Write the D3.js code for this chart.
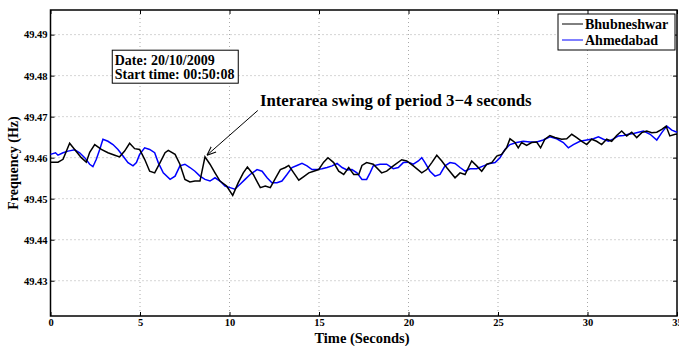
<!DOCTYPE html>
<html>
<head>
<meta charset="utf-8">
<script src="https://cdn.jsdelivr.net/npm/d3@7"></script>
<style>
  body { margin: 0; background: #fff; }
  svg { display: block; font-family: "Liberation Serif", "Times New Roman", serif; font-weight: bold; }
</style>
</head>
<body>
<div id="chart"></div>
<script>
// time (s) and frequency (Hz)
const timeBhub = [0, 0.42, 0.7, 1.07, 1.35, 1.72, 2.0, 2.19, 2.47, 2.84, 3.21, 3.59, 3.86, 4.14, 4.42, 4.7, 4.98, 5.26, 5.54, 5.82,
  6.12, 6.4, 6.58, 6.96, 7.23, 7.51, 7.79, 8.07, 8.35, 8.63, 8.91, 9.19, 9.47, 9.84, 10.18, 10.49, 10.77, 11.0, 11.33, 11.72,
  12.0, 12.28, 12.58, 12.84, 13.12, 13.31, 13.59, 13.87, 14.15, 14.43, 14.7, 14.98, 15.26, 15.5, 15.82, 16.1, 16.38, 16.66, 16.94, 17.22,
  17.4, 17.66, 18.03, 18.5, 18.78, 19.15, 19.62, 19.9, 20.27, 20.74, 21.02, 21.3, 21.58, 21.86, 22.13, 22.6, 22.88, 23.16, 23.53, 23.81,
  24.09, 24.37, 24.65, 24.93, 25.2, 25.48, 25.67, 25.95, 26.13, 26.32, 26.6, 26.88, 27.16, 27.38, 27.62, 27.9, 28.18, 28.56, 28.84, 29.12,
  29.4, 29.68, 29.96, 30.23, 30.51, 30.79, 31.07, 31.35, 31.63, 31.91, 32.19, 32.47, 32.75, 33.03, 33.31, 33.59, 33.87, 34.15, 34.39, 34.6, 34.9, 35.0];
const freqBhub = [49.4589, 49.4589, 49.4596, 49.4635, 49.4620, 49.4600, 49.4589, 49.4613, 49.4632, 49.4620, 49.4612, 49.4606, 49.4602, 49.4616, 49.4635, 49.4622, 49.4620, 49.4596, 49.4567, 49.4563,
  49.4588, 49.4612, 49.4618, 49.4608, 49.4584, 49.4547, 49.4541, 49.4543, 49.4543, 49.4602, 49.4584, 49.4563, 49.4543, 49.4531, 49.4508, 49.4539, 49.4563, 49.4577, 49.4559, 49.4527,
  49.4531, 49.4527, 49.4551, 49.4571, 49.4576, 49.4581, 49.4563, 49.4545, 49.4554, 49.4563, 49.4567, 49.4571, 49.4589, 49.4600, 49.4588, 49.4567, 49.4559, 49.4576, 49.4559, 49.4559,
  49.4581, 49.4588, 49.4584, 49.4563, 49.4567, 49.4580, 49.4595, 49.4592, 49.4580, 49.4563, 49.4571, 49.4588, 49.4606, 49.4592, 49.4576, 49.4551, 49.4563, 49.4559, 49.4592, 49.4580,
  49.4567, 49.4584, 49.4588, 49.4604, 49.4608, 49.4624, 49.4646, 49.4637, 49.4624, 49.4637, 49.4630, 49.4637, 49.4638, 49.4624, 49.4645, 49.4654, 49.4649, 49.4645, 49.4646, 49.4657,
  49.4649, 49.4640, 49.4632, 49.4645, 49.4640, 49.4632, 49.4645, 49.4640, 49.4654, 49.4665, 49.4653, 49.4662, 49.4649, 49.4661, 49.4665, 49.4661, 49.4662, 49.4669, 49.4677, 49.4653, 49.4657, 49.4657];

const timeAhmd = [0, 0.28, 0.42, 0.7, 0.98, 1.35, 1.63, 1.91, 2.19, 2.37, 2.56, 2.75, 2.93, 3.21, 3.49, 3.77, 4.05, 4.33, 4.61, 4.8,
  4.98, 5.26, 5.54, 5.82, 6.02, 6.3, 6.68, 6.96, 7.23, 7.51, 7.79, 8.07, 8.35, 8.63, 8.91, 9.19, 9.47, 9.75, 10.03, 10.3,
  10.59, 10.87, 11.15, 11.42, 11.54, 11.82, 12.1, 12.37, 12.65, 12.93, 13.21, 13.49, 13.77, 14.05, 14.33, 14.61, 14.89, 15.17, 15.45, 15.73,
  16.01, 16.29, 16.56, 16.84, 17.12, 17.4, 17.66, 17.85, 18.03, 18.41, 18.78, 19.15, 19.43, 19.71, 19.99, 20.27, 20.55, 20.74, 20.92, 21.2,
  21.48, 21.76, 22.04, 22.32, 22.6, 22.88, 23.16, 23.44, 23.81, 24.19, 24.56, 24.84, 25.11, 25.39, 25.67, 26.04, 26.41, 26.79, 27.16, 27.53,
  27.9, 28.28, 28.65, 28.93, 29.21, 29.58, 29.96, 30.33, 30.61, 30.89, 31.17, 31.45, 31.73, 32.01, 32.29, 32.57, 32.85, 33.13, 33.5, 33.87,
  34.15, 34.43, 34.71, 35.0];
const freqAhmd = [49.4608, 49.4612, 49.4606, 49.4612, 49.4616, 49.4619, 49.4612, 49.4600, 49.4584, 49.4578, 49.4596, 49.4620, 49.4645, 49.4640, 49.4632, 49.4620, 49.4604, 49.4588, 49.4580, 49.4588,
  49.4608, 49.4624, 49.4620, 49.4612, 49.4588, 49.4563, 49.4547, 49.4555, 49.4580, 49.4584, 49.4576, 49.4567, 49.4555, 49.4547, 49.4543, 49.4551, 49.4543, 49.4531, 49.4527, 49.4523,
  49.4535, 49.4547, 49.4559, 49.4567, 49.4571, 49.4567, 49.4551, 49.4539, 49.4539, 49.4543, 49.4559, 49.4576, 49.4581, 49.4586, 49.4580, 49.4571, 49.4571, 49.4573, 49.4576, 49.4580,
  49.4586, 49.4576, 49.4570, 49.4571, 49.4563, 49.4547, 49.4547, 49.4563, 49.4580, 49.4584, 49.4584, 49.4573, 49.4576, 49.4588, 49.4589, 49.4584, 49.4592, 49.4600, 49.4588, 49.4567,
  49.4555, 49.4559, 49.4580, 49.4588, 49.4586, 49.4576, 49.4567, 49.4573, 49.4573, 49.4580, 49.4586, 49.4588, 49.4600, 49.4620, 49.4632, 49.4637, 49.4640, 49.4638, 49.4638, 49.4643,
  49.4651, 49.4646, 49.4637, 49.4624, 49.4632, 49.4640, 49.4643, 49.4646, 49.4651, 49.4645, 49.4640, 49.4646, 49.4653, 49.4654, 49.4657, 49.4659, 49.4662, 49.4665, 49.4657, 49.4643,
  49.4661, 49.4677, 49.4667, 49.4662];

const xTicks = [0, 5, 10, 15, 20, 25, 30, 35];
const yTicks = [49.43, 49.44, 49.45, 49.46, 49.47, 49.48, 49.49];
const seriesNames = ["Bhubneshwar", "Ahmedabad"];
const seriesColors = ["#000000", "#0000ff"];

const W = 679, H = 346;
const margin = { top: 10, right: 2, bottom: 30, left: 50.5 };
const width = W - margin.left - margin.right;
const height = H - margin.top - margin.bottom;

const svg = d3.select("#chart").append("svg")
  .attr("width", W)
  .attr("height", H);

const g = svg.append("g")
  .attr("transform", `translate(${margin.left},${margin.top})`);

const x = d3.scaleLinear().domain([0, 35]).range([0, width]);
const y = d3.scaleLinear().domain([49.4214, 49.4960]).range([height, 0]);

// dotted grid
g.selectAll(".gx").data(xTicks.slice(1, -1)).enter().append("line")
  .attr("x1", d => x(d)).attr("x2", d => x(d))
  .attr("y1", 0).attr("y2", height)
  .attr("stroke", "#aaa").attr("stroke-width", 1).attr("stroke-dasharray", "1,3");
g.selectAll(".gy").data(yTicks).enter().append("line")
  .attr("x1", 0).attr("x2", width)
  .attr("y1", d => y(d)).attr("y2", d => y(d))
  .attr("stroke", "#aaa").attr("stroke-width", 1).attr("stroke-dasharray", "1,3");

// axes, matlab style: ticks inward on all four sides
const xAxis = g.append("g").attr("transform", `translate(0,${height})`)
  .call(d3.axisBottom(x).tickValues(xTicks).tickSizeInner(-4).tickSizeOuter(0).tickPadding(3));
const yAxis = g.append("g")
  .call(d3.axisLeft(y).tickValues(yTicks).tickFormat(d3.format(".2f")).tickSizeInner(-4).tickSizeOuter(0).tickPadding(3));
g.append("g")
  .call(d3.axisTop(x).tickValues(xTicks).tickSizeInner(-4).tickSizeOuter(0).tickFormat(""));
g.append("g").attr("transform", `translate(${width},0)`)
  .call(d3.axisRight(y).tickValues(yTicks).tickSizeInner(-4).tickSizeOuter(0).tickFormat(""));

svg.selectAll(".domain").remove();
svg.selectAll(".tick line").attr("stroke", "#000").attr("stroke-width", 1);
svg.selectAll(".tick text").attr("font-size", 10.5).attr("font-weight", "bold").attr("font-family", "Liberation Serif");

g.append("rect")
  .attr("width", width).attr("height", height)
  .attr("fill", "none").attr("stroke", "#000").attr("stroke-width", 1.5);

// lines
const line = d3.line().x(d => x(d[0])).y(d => y(d[1]));
const bhub = timeBhub.map((t, i) => [t, freqBhub[i]]);
const ahmd = timeAhmd.map((t, i) => [t, freqAhmd[i]]);

g.append("path").datum(ahmd)
  .attr("d", line).attr("fill", "none")
  .attr("stroke", seriesColors[1]).attr("stroke-width", 1.5);
g.append("path").datum(bhub)
  .attr("d", line).attr("fill", "none")
  .attr("stroke", seriesColors[0]).attr("stroke-width", 1.5);

// axis labels
svg.append("text")
  .attr("x", 362).attr("y", 342.5)
  .attr("text-anchor", "middle").attr("font-size", 14.5)
  .text("Time (Seconds)");
svg.append("text")
  .attr("transform", "translate(18,163) rotate(-90)")
  .attr("text-anchor", "middle").attr("font-size", 14)
  .text("Frequency (Hz)");

// date box
const info = g.append("g").attr("transform", `translate(${x(3.45)},${y(49.4862)})`);
info.append("rect")
  .attr("width", 126).attr("height", 33)
  .attr("fill", "#fff").attr("stroke", "#000").attr("stroke-width", 1);
info.append("text").attr("x", 2.5).attr("y", 14.5).attr("font-size", 14).text("Date: 20/10/2009");
info.append("text").attr("x", 2.5).attr("y", 28.5).attr("font-size", 14).text("Start time: 00:50:08");

// annotation with arrow
svg.append("defs").append("marker")
  .attr("id", "arrow").attr("viewBox", "0 0 10 10")
  .attr("refX", 10).attr("refY", 5)
  .attr("markerWidth", 9).attr("markerHeight", 9)
  .attr("orient", "auto")
  .append("path").attr("d", "M0,1 L10,5 L0,9").attr("fill", "none").attr("stroke", "#000").attr("stroke-width", 1.2);

g.append("line")
  .attr("x1", x(11.58)).attr("y1", y(49.4715))
  .attr("x2", x(8.74)).attr("y2", y(49.4606))
  .attr("stroke", "#000").attr("stroke-width", 1)
  .attr("marker-end", "url(#arrow)");
g.append("text")
  .attr("x", x(11.7)).attr("y", y(49.4727))
  .attr("font-size", 16.8)
  .text("Interarea swing of period 3\u22124 seconds");

// legend
const legend = svg.append("g").attr("transform", "translate(558,14)");
legend.append("rect")
  .attr("width", 117).attr("height", 36)
  .attr("fill", "#fff").attr("stroke", "#000").attr("stroke-width", 1);
seriesNames.forEach((name, i) => {
  legend.append("line")
    .attr("x1", 4).attr("x2", 25)
    .attr("y1", 10 + i * 16).attr("y2", 10 + i * 16)
    .attr("stroke", seriesColors[i]).attr("stroke-width", 1);
  legend.append("text")
    .attr("x", 27).attr("y", 14.5 + i * 16)
    .attr("font-size", 14)
    .text(name);
});
</script>
</body>
</html>
